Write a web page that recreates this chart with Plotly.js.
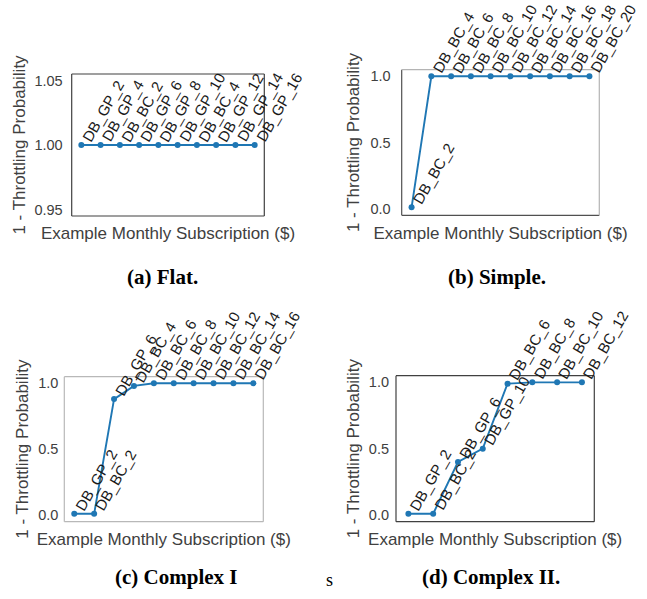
<!DOCTYPE html>
<html>
<head>
<meta charset="utf-8">
<script src="https://cdn.plot.ly/plotly-3.0.1.min.js"></script>
<style>html,body{margin:0;padding:0;background:#fff;}#chart{width:647px;height:599px;}</style>
</head>
<body>
<div id="chart"></div>
<script>
// (a) Flat
const flatLabels = ["DB_GP_2","DB_GP_4","DB_BC_2","DB_GP_6","DB_GP_8","DB_GP_10","DB_BC_4","DB_GP_12","DB_GP_14","DB_GP_16"];
const flatValues = [1,1,1,1,1,1,1,1,1,1];
// (b) Simple
const simpleLabels = ["DB_BC_2","DB_BC_4","DB_BC_6","DB_BC_8","DB_BC_10","DB_BC_12","DB_BC_14","DB_BC_16","DB_BC_18","DB_BC_20"];
const simpleValues = [0.01,1,1,1,1,1,1,1,1,1];
// (c) Complex I
const complex1Labels = ["DB_GP_2","DB_BC_2","DB_GP_6","DB_BC_4","DB_BC_6","DB_BC_8","DB_BC_10","DB_BC_12","DB_BC_14","DB_BC_16"];
const complex1Values = [0.01,0.01,0.88,0.98,1,1,1,1,1,1];
// (d) Complex II
const complex2Labels = ["DB_GP_2","DB_BC_2","DB_GP_6","DB_GP_10","DB_BC_6","DB_BC_8","DB_BC_10","DB_BC_12"];
const complex2Values = [0.01,0.01,0.40,0.50,0.99,1,1,1];

const captions = ["(a) Flat.","(b) Simple.","(c) Complex I","(d) Complex II."];
const xTitle = "Example Monthly Subscription ($)";
const yTitle = "1 - Throttling Probability";

const W = 647, H = 599;
const BLUE = "#1f77b4";
const SANS = "Liberation Sans, Arial, sans-serif";
const SERIF = "Liberation Serif, Times New Roman, serif";
const TXT = "#404040";

const panels = [
  {labels: flatLabels, values: flatValues, box:[71.7,74,264.3,216], yr:[0.945,1.055], ticks:[0.95,1.00,1.05], fmt:2,
   frame:{l:"#404040",b:"#404040",t:"#404040",r:"#404040"}, cap:[162,277], tso:8, yso:4},
  {labels: simpleLabels, values: simpleValues, box:[401.7,69.7,599.3,215.3], yr:[-0.05,1.05], ticks:[0,0.5,1], fmt:1,
   frame:{l:"#505050",b:"#505050",t:"#b4b4b4",r:"#b4b4b4"}, cap:[497,277], tso:10, yso:6},
  {labels: complex1Labels, values: complex1Values, box:[64.3,376.7,263.3,521.7], yr:[-0.05,1.05], ticks:[0,0.5,1], fmt:1,
   frame:{l:"#b8b8b8",b:"#b8b8b8",t:"#b8b8b8",r:"#b8b8b8"}, cap:[176,577], tso:5, yso:5},
  {labels: complex2Labels, values: complex2Values, box:[396,375.7,594.3,521.7], yr:[-0.05,1.05], ticks:[0,0.5,1], fmt:1,
   frame:{l:"#404040",b:"#404040",t:"#404040",r:"#404040"}, cap:[491,577], tso:6, yso:4}
];

const data = [];
const layout = {
  width: W, height: H,
  margin: {l:0, r:0, t:0, b:0},
  paper_bgcolor: "#fff", plot_bgcolor: "#fff",
  showlegend: false,
  annotations: [], shapes: []
};

panels.forEach((p, i) => {
  const k = i === 0 ? "" : String(i + 1);
  const xa = "x" + k, ya = "y" + k;
  data.push({
    type: "scatter", mode: "lines+markers",
    x: p.labels, y: p.values, xaxis: xa, yaxis: ya,
    line: {color: BLUE, width: 1.9},
    marker: {color: BLUE, size: 6},
    cliponaxis: false, hoverinfo: "skip"
  });
  const [x0, y0, x1, y1] = p.box;
  layout["xaxis" + k] = {
    domain: [x0 / W, x1 / W], anchor: ya, type: "category",
    range: [-0.5, p.labels.length - 0.5],
    showticklabels: false, showgrid: false, zeroline: false, showline: false, ticks: "",
    title: {text: xTitle, font: {family: SANS, size: 17, color: TXT}, standoff: 11}
  };
  layout["yaxis" + k] = {
    domain: [1 - y1 / H, 1 - y0 / H], anchor: xa,
    range: p.yr, tickvals: p.ticks, ticktext: p.ticks.map(v => v.toFixed(p.fmt)),
    tickfont: {family: SANS, size: 14.5, color: TXT},
    showgrid: false, zeroline: false, showline: false, ticks: "", ticklabelstandoff: p.tso,
    title: {text: yTitle, font: {family: SANS, size: 17, color: TXT}, standoff: p.yso}
  };
  const xr = xa + " domain", yr = ya + " domain";
  const lw = 1.2;
  layout.shapes.push(
    {type:"line", xref:xr, yref:yr, x0:0, x1:0, y0:0, y1:1, line:{color:p.frame.l, width:lw}},
    {type:"line", xref:xr, yref:yr, x0:0, x1:1, y0:0, y1:0, line:{color:p.frame.b, width:lw}},
    {type:"line", xref:xr, yref:yr, x0:0, x1:1, y0:1, y1:1, line:{color:p.frame.t, width:lw}},
    {type:"line", xref:xr, yref:yr, x0:1, x1:1, y0:0, y1:1, line:{color:p.frame.r, width:lw}}
  );
  p.labels.forEach((lab, j) => {
    layout.annotations.push({
      xref: xa, yref: ya, x: lab, y: p.values[j], text: lab, showarrow: false,
      textangle: -60, xanchor: "left", yanchor: "bottom", xshift: -5, yshift: -2,
      font: {family: SANS, size: 15, color: "#1a1a1a"}
    });
  });
  layout.annotations.push({
    xref: "paper", yref: "paper", x: p.cap[0] / W, y: 1 - p.cap[1] / H,
    text: "<b>" + captions[i] + "</b>", showarrow: false, xanchor: "center", yanchor: "middle",
    font: {family: SERIF, size: 21, color: "#000"}
  });
});

layout.annotations.push({
  xref: "paper", yref: "paper", x: 330 / W, y: 1 - 580 / H, text: "s", showarrow: false,
  xanchor: "center", yanchor: "middle", font: {family: SERIF, size: 18, color: "#000"}
});

Plotly.newPlot("chart", data, layout, {displayModeBar: false, staticPlot: true});
</script>
</body>
</html>
